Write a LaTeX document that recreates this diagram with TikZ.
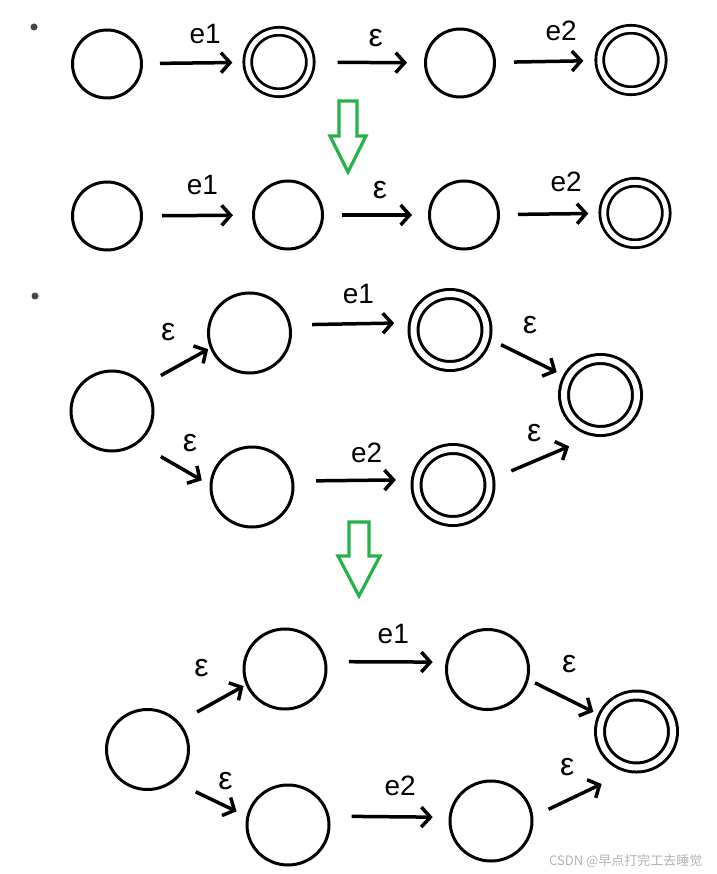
\documentclass[tikz,border=0pt]{standalone}
\usepackage{fontspec}
\newfontfamily\cjk{Noto Sans CJK SC}
\newfontfamily\handfont{Liberation Sans}
\usetikzlibrary{shapes.geometric,arrows.meta,positioning}
\definecolor{arrgreen}{RGB}{38,178,72}
\definecolor{dotgray}{RGB}{70,70,70}
\tikzstyle{st} = [ellipse, draw, line width=3pt, inner sep=0pt, minimum width=69pt, minimum height=68pt]
\tikzstyle{acc} = [st, line width=2.8pt, double, double distance=5pt, minimum width=62.5pt, minimum height=61.5pt]
\tikzstyle{stbig} = [st, minimum width=82pt, minimum height=80pt]
\tikzstyle{accbig} = [st, double, double distance=6pt, minimum width=73pt, minimum height=72pt]
\tikzstyle{trans} = [line width=3.5pt, -{Straight Barb[length=9pt,width=20pt]}]
\tikzstyle{lbl} = [font=\handfont\fontsize{28}{28}\selectfont, inner sep=0pt]
\tikzstyle{eps} = [font=\handfont\fontsize{32}{32}\selectfont, inner sep=0pt]
\tikzstyle{hollow} = [draw=arrgreen, line width=3.2pt, line join=miter]

\begin{document}
\begin{tikzpicture}[x=1pt,y=-1pt]
\useasboundingbox (0,0) rectangle (716,874);

% first case
\fill[dotgray] (34,27) circle[radius=3.5];
\node[st]  (a1) at (107,64) {};
\node[acc] (a2) at (279,62) {};
\node[st]  (a3) at (460,63) {};
\node[acc] (a4) at (631,60) {};
\draw[trans, shorten <=17pt, shorten >=14pt] (a1) -- node[lbl, shift={(10.5,-29)}] {e1} (a2);
\draw[trans, shorten <=26pt, shorten >=17pt] (a2) -- node[eps, shift={(8,-24)}] {ε} (a3);
\draw[trans, shorten <=18pt, shorten >=15pt] (a3) -- node[lbl, shift={(14,-31)}] {e2} (a4);

\draw[hollow] (339,101) -- (357,101) -- (357,136) -- (366,136) -- (348,172) -- (330,136) -- (339,136) -- cycle;

\node[st]  (b1) at (107,216) {};
\node[st]  (b2) at (288,215) {};
\node[st]  (b3) at (464,215) {};
\node[acc] (b4) at (635,213) {};
\draw[trans, shorten <=19pt, shorten >=19pt] (b1) -- node[lbl, shift={(5,-30)}] {e1} (b2);
\draw[trans, shorten <=18pt, shorten >=16pt] (b2) -- node[eps, shift={(4,-25)}] {ε} (b3);
\draw[trans, shorten <=18pt, shorten >=14pt] (b3) -- node[lbl, shift={(15,-32)}] {e2} (b4);

% second case
\fill[dotgray] (35,296) circle[radius=3.5];
\node[stbig]  (c1) at (112,411) {};
\node[stbig]  (c2) at (249.5,333) {};
\node[accbig] (c3) at (450,330) {};
\node[accbig] (c4) at (600.5,395) {};
\node[stbig]  (c5) at (252,487) {};
\node[accbig] (c6) at (453,485) {};
\draw[trans, shorten <=18.5pt, shorten >=2pt] (c1.39) -- node[eps, shift={(-9,-34.5)}] {ε} (c2.201);
\draw[trans, shorten <=26pt, shorten >=9pt] (c1.-51) -- node[eps, shift={(16,-21)}] {ε} (c5.177);
\draw[trans, shorten <=21pt, shorten >=18.5pt] (c2.11) -- node[lbl, shift={(6.5,-29.5)}] {e1} (c3.169);
\draw[trans, shorten <=22pt, shorten >=19.5pt] (c5.8) -- node[lbl, shift={(12,-28)}] {e2} (c6.172);
\draw[trans, shorten <=15.5pt, shorten >=11.5pt] (c3.-12) -- node[eps, shift={(3,-33)}] {ε} (c4.152);
\draw[trans, shorten <=22.5pt, shorten >=35.5pt] (c6.8) -- node[eps, shift={(-12,-23)}] {ε} (c4.-88);

\draw[hollow] (349,522) -- (369,522) -- (369,556) -- (380,556) -- (359,596) -- (338,556) -- (349,556) -- cycle;

\node[stbig]  (d1) at (147.5,749.5) {};
\node[stbig]  (d2) at (285,669) {};
\node[stbig]  (d3) at (487.5,669.5) {};
\node[accbig] (d4) at (636.5,731.5) {};
\node[stbig]  (d5) at (288,825) {};
\node[stbig]  (d6) at (491,821) {};
\draw[trans, shorten <=20.5pt, shorten >=2.5pt] (d1.41) -- node[eps, shift={(-11,-35)}] {ε} (d2.202);
\draw[trans, shorten <=23.5pt, shorten >=11pt] (d1.-50) -- node[eps, shift={(15,-18)}] {ε} (d5.168);
\draw[trans, shorten <=22pt, shorten >=13pt] (d2.10) -- node[lbl, shift={(7,-27.5)}] {e1} (d3.170);
\draw[trans, shorten <=22pt, shorten >=16pt] (d5.12) -- node[lbl, shift={(11,-30.5)}] {e2} (d6.175);
\draw[trans, shorten <=7pt, shorten >=9.5pt] (d3.-14) -- node[eps, shift={(4,-34)}] {ε} (d4.156);
\draw[trans, shorten <=17pt, shorten >=35pt] (d6.6) -- node[eps, shift={(-16,-26)}] {ε} (d4.-95);

\node[font=\cjk\fontsize{13}{13}\selectfont, text=gray!60, anchor=east] (wm) at (706,861) {CSDN @早点打完工去睡觉};
\end{tikzpicture}
\end{document}
